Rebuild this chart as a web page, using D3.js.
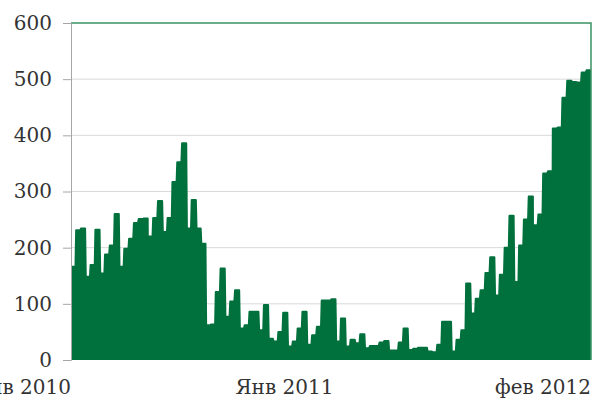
<!DOCTYPE html>
<html>
<head>
<meta charset="utf-8">
<script src="https://cdn.jsdelivr.net/npm/d3@7"></script>
<style>
  body { margin: 0; background: #fff; }
  text { font-family: "DejaVu Serif", serif; fill: #333; }
</style>
</head>
<body>
<svg id="chart" width="593" height="401"></svg>
<script>
// weekly values, Jan 2010 - Feb 2012
const values = [
  166, 231, 234, 148, 169, 232, 154, 188, 204, 260,
  166, 198, 216, 244, 251, 252, 220, 253, 283, 228,
  253, 317, 352, 386, 234, 285, 234, 207,
  62, 63, 121, 163, 77, 104, 124, 56, 62, 86, 86, 53,
  98, 38, 33, 50, 84, 24, 33, 56, 86, 27, 44, 59, 106, 106, 108,
  33, 74, 24, 36, 30, 46, 21, 25, 25, 31, 34, 17, 17, 31, 56,
  18, 20, 22, 22, 15, 14, 27, 68, 68, 15, 36, 53,
  136, 83, 109, 124, 155, 183, 115, 152, 200, 257, 139, 204, 250, 291,
  240, 259, 332, 336, 412, 414, 467, 497, 495, 494, 512, 516
];
// short one-day drops between weeks
const dipWeek = [16, 96, 100];
const dipValue = [175, 149, 216];

const xLabels = ["Янв 2010", "Янв 2011", "фев 2012"];
const xLabelWeek = [0, 54.5, 108];
const yTicks = [0, 100, 200, 300, 400, 500, 600];

const margin = { top: 23, right: 2, bottom: 41, left: 71 };
const width = 593 - margin.left - margin.right;
const height = 401 - margin.top - margin.bottom;

const svg = d3.select("#chart");
const chart = svg.append("g")
  .attr("transform", `translate(${margin.left},${margin.top})`);

const x = d3.scaleLinear().domain([0, values.length]).range([0, width]);
const y = d3.scaleLinear().domain([0, 600]).range([height, 0]);

// gridlines
chart.append("g")
  .selectAll("line")
  .data(yTicks.slice(1, -1))
  .enter()
  .append("line")
  .attr("x1", 0).attr("x2", width)
  .attr("y1", d => y(d)).attr("y2", d => y(d))
  .attr("stroke", "#d9d9d9");

// build step outline
const e = 0.07;
const pts = [];
values.forEach((v, i) => {
  const k = dipWeek.indexOf(i);
  if (k >= 0) pts.push([i - 0.02, dipValue[k]]);
  pts.push([i + (i === 0 ? 0 : e), v]);
  pts.push([i + 1 - (i === values.length - 1 ? 0 : e), v]);
});

const area = d3.area()
  .x(d => x(d[0]))
  .y0(y(0))
  .y1(d => y(d[1]));
const line = d3.line()
  .x(d => x(d[0]))
  .y(d => y(d[1]));

chart.append("path")
  .datum(pts)
  .attr("d", area)
  .attr("fill", "#00703c");
chart.append("path")
  .datum(pts)
  .attr("d", line)
  .attr("fill", "none")
  .attr("stroke", "#00703c")
  .attr("stroke-width", 2)
  .attr("stroke-linejoin", "round");

// plot border (top and right)
chart.append("path")
  .attr("d", `M0,${y(600)}H${width}V${y(0)}`)
  .attr("fill", "none")
  .attr("stroke", "#3a9463")
  .attr("stroke-width", 1.5);

// y axis
const yAxis = chart.append("g")
  .call(d3.axisLeft(y).tickValues(yTicks).tickSize(8).tickPadding(11));
yAxis.select(".domain").attr("stroke", "#a6a6a6");
yAxis.selectAll(".tick line").attr("stroke", "#a6a6a6");
yAxis.selectAll("text")
  .attr("font-size", 20)
  .attr("font-family", "DejaVu Serif")
  .attr("fill", "#333");

// x labels
chart.append("g")
  .selectAll("text")
  .data(xLabels)
  .enter()
  .append("text")
  .attr("x", (d, i) => x(xLabelWeek[i]))
  .attr("y", height + 34)
  .attr("text-anchor", "end")
  .attr("font-size", 20)
  .text(d => d);
</script>
</body>
</html>
